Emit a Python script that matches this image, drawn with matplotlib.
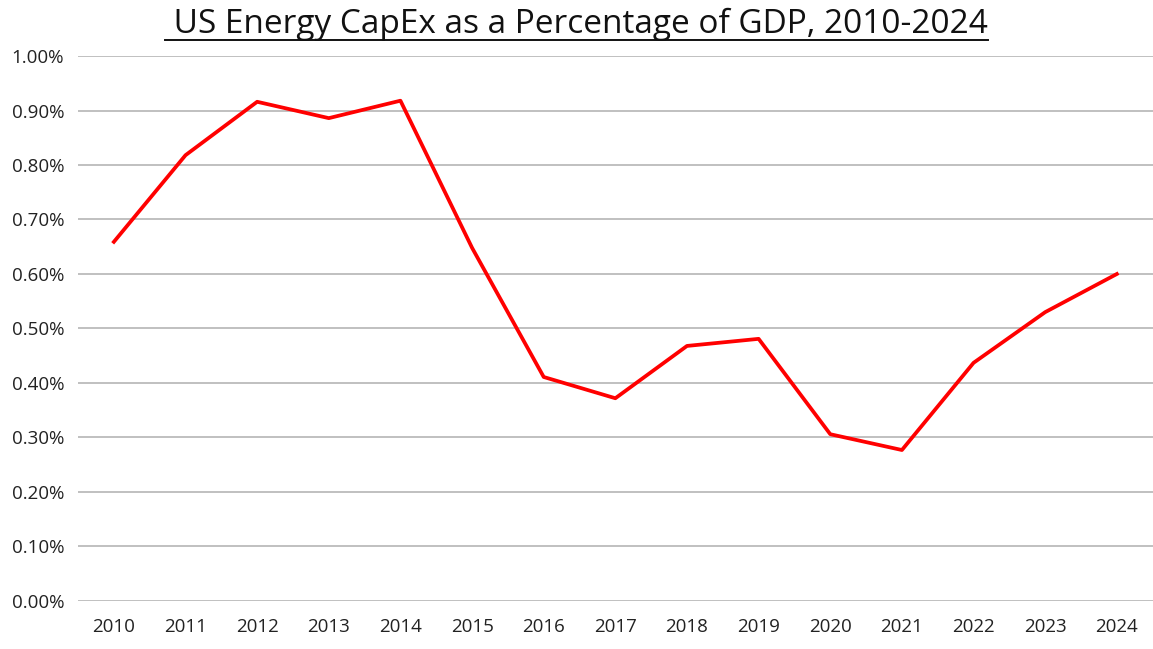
import matplotlib
matplotlib.use('Agg')
import matplotlib.pyplot as plt
from matplotlib.lines import Line2D
from matplotlib import ticker

plt.rcParams['font.family'] = ['Open Sans', 'DejaVu Sans']

years = ['2010', '2011', '2012', '2013', '2014', '2015', '2016', '2017',
         '2018', '2019', '2020', '2021', '2022', '2023', '2024']
capex_pct = [0.659, 0.818, 0.916, 0.886, 0.918, 0.648, 0.411, 0.372,
             0.468, 0.481, 0.306, 0.277, 0.437, 0.530, 0.600]

fig = plt.figure(figsize=(11.53, 6.49), dpi=100)
ax = fig.add_axes([0.0677, 0.074, 0.932, 0.8397])

x = range(len(years))
ax.plot(x, capex_pct, color='#ff0000', linewidth=2.7, solid_joinstyle='round', zorder=3)

ax.set_xlim(-0.5, len(years) - 0.5)
ax.set_ylim(0, 1.0)
ax.set_xticks(list(x))
ax.set_xticklabels(years)
ax.yaxis.set_major_locator(ticker.MultipleLocator(0.1))
ax.yaxis.set_major_formatter(ticker.FuncFormatter(lambda v, p: f'{v:.2f}%'))
ax.grid(axis='y', color='#c0c0c0', linewidth=1.4)
ax.set_axisbelow(True)
for s in ax.spines.values():
    s.set_visible(False)
ax.tick_params(length=0, labelsize=13.5, colors='#222222')
ax.tick_params(axis='x', pad=12)
ax.tick_params(axis='y', pad=10)

title = fig.text(0.5, 0.949, ' US Energy CapEx as a Percentage of GDP, 2010-2024',
                 ha='center', va='baseline', fontsize=24, color='#111111')
fig.canvas.draw()
bb = title.get_window_extent().transformed(fig.transFigure.inverted())
uy = 0.938
fig.add_artist(Line2D([bb.x0, bb.x1], [uy, uy], color='#111111', linewidth=1.4,
                      transform=fig.transFigure))

fig.savefig('out.png', dpi=100)
